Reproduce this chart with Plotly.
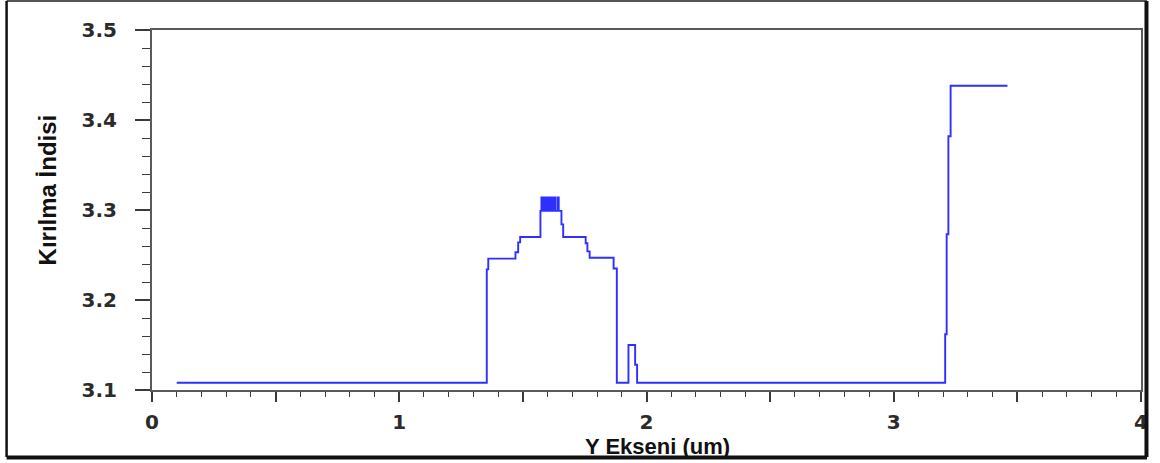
import plotly.graph_objects as go

# Refractive-index profile along the Y axis (step profile, um)
y_pos_um = [
    0.100, 1.354, 1.360, 1.470, 1.481, 1.489, 1.571,
    1.5750, 1.5775, 1.5800, 1.5825, 1.5850, 1.5875, 1.5900, 1.5925, 1.5950,
    1.5975, 1.6000, 1.6025, 1.6050, 1.6075, 1.6100, 1.6125, 1.6150, 1.6175,
    1.6200, 1.6225, 1.6250, 1.6275, 1.6300, 1.6320,
    1.641, 1.645, 1.656, 1.663, 1.754, 1.761, 1.770, 1.867, 1.880,
    1.927, 1.954, 1.962, 3.208, 3.214, 3.221, 3.230, 3.460,
]
refr_index = [
    3.108, 3.234, 3.246, 3.253, 3.264, 3.270, 3.299,
    3.314, 3.299, 3.314, 3.299, 3.314, 3.299, 3.314, 3.299, 3.314,
    3.299, 3.314, 3.299, 3.314, 3.299, 3.314, 3.299, 3.314, 3.299,
    3.314, 3.299, 3.314, 3.299, 3.314, 3.299,
    3.314, 3.299, 3.284, 3.270, 3.263, 3.254, 3.247, 3.235, 3.108,
    3.150, 3.128, 3.108, 3.162, 3.273, 3.382, 3.438, 3.438,
]

x_tick_vals = [0, 0.5, 1, 1.5, 2, 2.5, 3, 3.5, 4]
x_tick_text = ["0", "", "1", "", "2", "", "3", "", "4"]

x_title = "Y Ekseni (um)"
y_title = "Kırılma İndisi"

W, H = 1160, 463
L, R, T, B = 152, 15, 30, 73
pw, ph = W - L - R, H - T - B


def px_to_paper_x(px):
    return (px - L) / pw


def px_to_paper_y(py):
    return (H - B - py) / ph


fig = go.Figure()
fig.add_trace(go.Scatter(
    x=y_pos_um, y=refr_index, mode="lines",
    line=dict(color="#2f2fff", width=1.9, shape="hv"),
    showlegend=False, hoverinfo="x+y",
))

axis_line = "#5a5a5a"
tick_col = "#3a3a3a"
tick_font = dict(family="DejaVu Sans", size=20, weight="bold", color="#2b2b2b")

fig.update_xaxes(
    range=[0, 4], tickmode="array", tickvals=x_tick_vals, ticktext=x_tick_text,
    ticks="outside", ticklen=10, tickwidth=1.6, tickcolor=tick_col,
    minor=dict(dtick=0.1, tick0=0, ticks="outside", ticklen=5, tickwidth=1.4, tickcolor=tick_col),
    showline=True, linecolor=axis_line, linewidth=2, mirror=True,
    showgrid=False, zeroline=False, tickfont=tick_font, ticklabelstandoff=3,
)
fig.update_yaxes(
    range=[3.1, 3.5], tick0=3.1, dtick=0.1, tickformat=".1f",
    ticks="outside", ticklen=15, tickwidth=1.6, tickcolor=tick_col,
    minor=dict(dtick=0.02, tick0=3.1, ticks="outside", ticklen=8, tickwidth=1.4, tickcolor=tick_col),
    showline=True, linecolor=axis_line, linewidth=2, mirror=True,
    showgrid=False, zeroline=False, tickfont=tick_font, ticklabelstandoff=14,
)

# Axis titles
fig.add_annotation(
    text=x_title, xref="paper", yref="paper",
    x=px_to_paper_x(660), y=px_to_paper_y(432), xanchor="center", yanchor="top",
    showarrow=False, font=dict(family="Liberation Sans", size=22, weight="bold", color="#111"),
)
fig.add_annotation(
    text=y_title, xref="paper", yref="paper", textangle=-90,
    x=px_to_paper_x(47), y=px_to_paper_y(190), xanchor="center", yanchor="middle",
    showarrow=False, font=dict(family="Liberation Sans", size=24, weight="bold", color="#111"),
)

# Outer frame around the figure
frame = [
    (6, 1, 1151, 1, "#555555", 2),
    (6, 1, 6, 457, "#111111", 2.5),
    (1150.5, 1, 1150.5, 457, "#111111", 4),
    (6, 457.5, 1151, 457.5, "#111111", 4),
]
for x0, y0, x1, y1, col, w in frame:
    fig.add_shape(
        type="line", xref="paper", yref="paper",
        x0=px_to_paper_x(x0), y0=px_to_paper_y(y0),
        x1=px_to_paper_x(x1), y1=px_to_paper_y(y1),
        line=dict(color=col, width=w),
    )

fig.update_layout(
    width=W, height=H, margin=dict(l=L, r=R, t=T, b=B),
    paper_bgcolor="white", plot_bgcolor="white",
)

fig.write_html("out.html")
